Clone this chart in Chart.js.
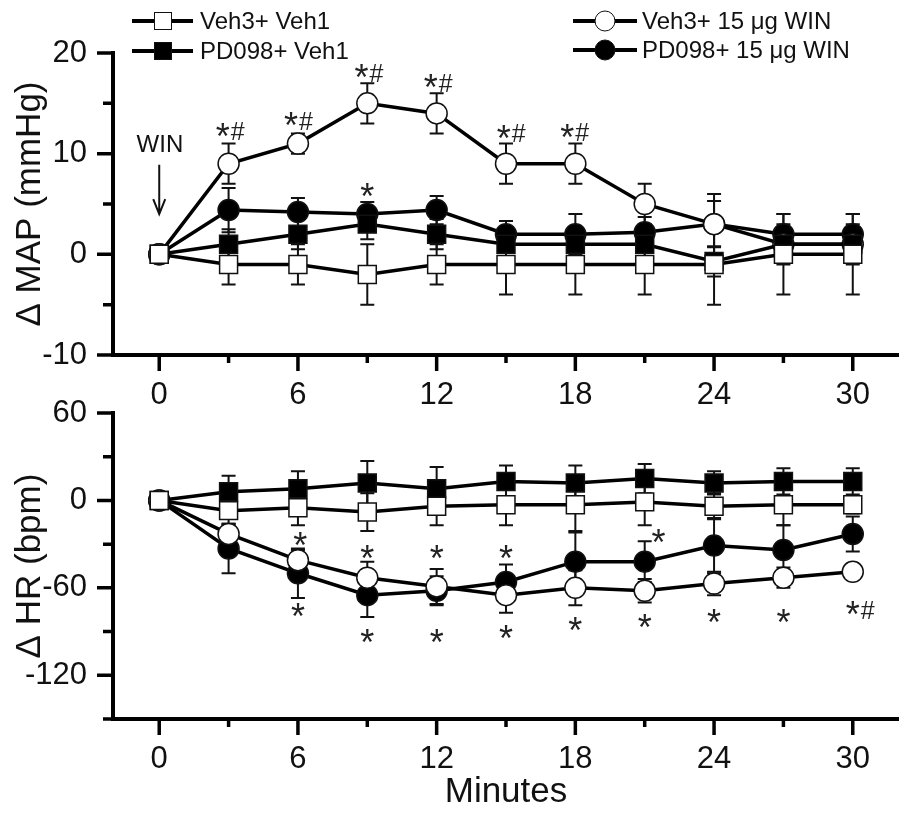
<!DOCTYPE html>
<html>
<head>
<meta charset="utf-8">
<title>MAP and HR after WIN</title>
<script src="https://cdn.jsdelivr.net/npm/chart.js@4.4.1/dist/chart.umd.min.js"></script>
<style>
  html, body { margin: 0; padding: 0; background: #fff; }
  #page { position: relative; width: 899px; height: 813px; overflow: hidden; font-family: "Liberation Sans", Arial, sans-serif; color: #111; }
  #page canvas { position: absolute; left: 0; }
  #map-chart { top: 0; }
  #hr-chart { top: 380px; }
  .lg-item { position: absolute; height: 30px; display: flex; align-items: center; font-size: 24px; white-space: nowrap; }
  .lg-key { position: relative; height: 30px; flex: none; }
  .lg-key::before { content: ""; position: absolute; left: 0; right: 0; top: 13px; height: 4px; background: #000; }
  .lg-mark { position: absolute; top: 50%; left: 50%; transform: translate(-50%, -50%); box-sizing: border-box; border: 1.5px solid #111; }
  .sq { width: 18px; height: 18px; }
  .ci { width: 21px; height: 21px; border-radius: 50%; }
  .open { background: #fff; }
  .filled { background: #000; }
</style>
</head>
<body>
<div id="page">
  <canvas id="map-chart" width="899" height="420"></canvas>
  <canvas id="hr-chart" width="899" height="433"></canvas>

  <div class="lg-item" style="left:132px; top:6px"><span class="lg-key" style="width:61px; margin-right:7px"><span class="lg-mark sq open"></span></span>Veh3+ Veh1</div>
  <div class="lg-item" style="left:132px; top:36px"><span class="lg-key" style="width:61px; margin-right:7px"><span class="lg-mark sq filled"></span></span>PD098+ Veh1</div>
  <div class="lg-item" style="left:573px; top:6px"><span class="lg-key" style="width:64px; margin-right:5px"><span class="lg-mark ci open"></span></span>Veh3+ 15 μg WIN</div>
  <div class="lg-item" style="left:573px; top:35px"><span class="lg-key" style="width:64px; margin-right:5px"><span class="lg-mark ci filled"></span></span>PD098+ 15 μg WIN</div>
</div>

<script>
const FONT = '"Liberation Sans", Arial, sans-serif';

// sampling times (min) and axis ticks
const MINUTES = [0, 3, 6, 9, 12, 15, 18, 21, 24, 27, 30];
const X_TICKS = [0, 3, 6, 9, 12, 15, 18, 21, 24, 27, 30];
const X_LABELS = [0, 6, 12, 18, 24, 30];
const MAP_TICKS = [-10, -5, 0, 5, 10, 15, 20];
const MAP_LABELS = [-10, 0, 10, 20];
const HR_TICKS = [-150, -120, -90, -60, -30, 0, 30, 60];
const HR_LABELS = [-120, -60, 0, 60];

// change in mean arterial pressure (mmHg), mean and SEM
const MAP_VEH_VEH = [0, -1, -1, -2, -1, -1, -1, -1, -1, 0, 0];
const MAP_VEH_VEH_SEM = [0, 2, 2, 3, 2, 3, 3, 3, 4, 4, 4];
const MAP_PD_VEH = [0, 1, 2, 3, 2, 1, 1, 1, -0.7, 1, 1];
const MAP_PD_VEH_SEM = [0, 1.5, 1.5, 1.5, 1.5, 1.5, 1.5, 1.5, 1.5, 1.5, 1.5];
const MAP_VEH_WIN = [0, 9, 11, 15, 14, 9, 9, 5, 3, 1, 1];
const MAP_VEH_WIN_SEM = [0, 2, 1, 2, 2, 2, 2, 2, 2.3, 2, 2];
const MAP_PD_WIN = [0, 4.4, 4.2, 4, 4.4, 2, 2, 2.2, 3, 2, 2];
const MAP_PD_WIN_SEM = [0, 2.2, 1.4, 1.2, 1.4, 1.3, 2, 1.5, 3, 2, 2];

// change in heart rate (bpm), mean and SEM
const HR_VEH_VEH = [0, -7, -5, -8, -4, -3, -3, -1, -4, -3, -3];
const HR_VEH_VEH_SEM = [0, 10, 12, 13, 13, 14, 18, 16, 9, 14, 6];
const HR_PD_VEH = [0, 6, 8, 12, 8, 13, 12, 15, 12, 13, 13];
const HR_PD_VEH_SEM = [0, 11, 12, 15, 15, 11, 12, 10, 8, 9, 9];
const HR_VEH_WIN = [0, -23, -41, -53, -59, -65, -60, -62, -57, -53, -49];
const HR_VEH_WIN_SEM = [0, 7, 7, 11, 12, 12, 12, 8, 8, 7, 5];
const HR_PD_WIN = [0, -33, -50, -65, -62, -56, -42, -42, -31, -34, -23];
const HR_PD_WIN_SEM = [0, 17, 17, 15, 10, 12, 20, 14, 19, 17, 12];

// significance marks: position in data units, "#" shown after the star when flagged
const MAP_STAR_X = [2.75, 5.7, 8.75, 11.75, 14.9, 17.65, 9];
const MAP_STAR_Y = [12.4, 13.4, 18.2, 17.2, 12.2, 12.3, 6.35];
const MAP_STAR_HASH = [true, true, true, true, true, true, false];
const HR_STAR_X = [6.1, 9, 12, 15, 21.6, 6, 9, 12, 15, 18, 21, 24, 27, 30];
const HR_STAR_Y = [-26.7, -35.6, -35.6, -35.6, -24.3, -75.4, -92.8, -92.8, -90.4, -85, -82.5, -79, -79, -74];
const HR_STAR_HASH = [false, false, false, false, false, false, false, false, false, false, false, false, false, true];

// WIN injection arrow (minute, label value, arrow start, arrow end)
const WIN_AT = 0, WIN_LABEL_Y = 11, WIN_ARROW = [8.9, 4.0];

function pts(vals) { return MINUTES.map((m, i) => ({ x: m, y: vals[i] })); }

function series(vals, sem, style, filled) {
  return {
    data: pts(vals), sem,
    borderColor: '#000', borderWidth: 3.5, tension: 0,
    pointStyle: style, pointRadius: style === 'rect' ? 12.7 : 10.5, pointHoverRadius: style === 'rect' ? 12.7 : 10.5,
    pointBorderColor: '#111', pointBorderWidth: 1.5,
    pointBackgroundColor: filled ? '#000' : '#fff'
  };
}

// error bars go under the markers so open symbols hide them
const errorBars = {
  id: 'errorBars',
  beforeDatasetsDraw(chart) {
    const { ctx } = chart, sx = chart.scales.x, sy = chart.scales.y;
    ctx.save();
    ctx.strokeStyle = '#111';
    ctx.lineWidth = 2;
    chart.data.datasets.forEach(ds => {
      ds.data.forEach((p, i) => {
        const e = ds.sem[i];
        if (!e) return;
        const x = sx.getPixelForValue(p.x);
        const y1 = sy.getPixelForValue(p.y + e), y2 = sy.getPixelForValue(p.y - e);
        ctx.beginPath();
        ctx.moveTo(x, y1); ctx.lineTo(x, y2);
        ctx.moveTo(x - 7, y1); ctx.lineTo(x + 7, y1);
        ctx.moveTo(x - 7, y2); ctx.lineTo(x + 7, y2);
        ctx.stroke();
      });
    });
    ctx.restore();
  }
};

// outward tick marks, long on labelled values and short in between
const tickMarks = {
  id: 'tickMarks',
  afterDraw(chart, args, opts) {
    const { ctx, chartArea } = chart, sx = chart.scales.x, sy = chart.scales.y;
    ctx.save();
    ctx.strokeStyle = '#000';
    ctx.lineWidth = 3.5;
    ctx.beginPath();
    X_TICKS.forEach(v => {
      const p = sx.getPixelForValue(v), len = X_LABELS.includes(v) ? 16 : 8;
      ctx.moveTo(p, chartArea.bottom); ctx.lineTo(p, chartArea.bottom + len);
    });
    opts.yTicks.forEach(v => {
      const p = sy.getPixelForValue(v), len = opts.yLabels.includes(v) ? 16 : 10;
      ctx.moveTo(chartArea.left - len, p); ctx.lineTo(chartArea.left, p);
    });
    ctx.stroke();
    ctx.restore();
  }
};

function inkText(ctx, text, font, cx, cy, align) {
  ctx.font = font;
  ctx.textAlign = 'left';
  ctx.textBaseline = 'alphabetic';
  const m = ctx.measureText(text);
  const w = m.actualBoundingBoxLeft + m.actualBoundingBoxRight;
  const left = align === 'left' ? cx : cx - w / 2;
  ctx.fillText(text, left + m.actualBoundingBoxLeft, cy + (m.actualBoundingBoxAscent - m.actualBoundingBoxDescent) / 2);
  return left + w;
}

const marks = {
  id: 'marks',
  afterDatasetsDraw(chart, args, opts) {
    const { ctx } = chart, sx = chart.scales.x, sy = chart.scales.y;
    ctx.save();
    ctx.fillStyle = '#222';
    opts.xs.forEach((t, i) => {
      const px = sx.getPixelForValue(t), py = sy.getPixelForValue(opts.ys[i]);
      const right = inkText(ctx, '*', '36px ' + FONT, px, py);
      if (opts.hash[i]) inkText(ctx, '#', '25px ' + FONT, right + 1, py + 1.5, 'left');
    });
    if (opts.win) {
      const px = sx.getPixelForValue(WIN_AT);
      ctx.fillStyle = '#111';
      inkText(ctx, 'WIN', '24px ' + FONT, px, sy.getPixelForValue(WIN_LABEL_Y));
      const a = sy.getPixelForValue(WIN_ARROW[0]), b = sy.getPixelForValue(WIN_ARROW[1]);
      ctx.strokeStyle = '#111';
      ctx.lineWidth = 2;
      ctx.beginPath();
      ctx.moveTo(px, a); ctx.lineTo(px, b);
      ctx.moveTo(px - 6, b - 15); ctx.lineTo(px, b); ctx.lineTo(px + 6, b - 15);
      ctx.stroke();
    }
    ctx.restore();
  }
};

function xScale(axisHeight, title) {
  return {
    type: 'linear', min: -2, max: 32,
    afterBuildTicks: s => { s.ticks = X_TICKS.map(v => ({ value: v })); },
    afterFit: s => { s.height = axisHeight; },
    grid: { display: true, drawOnChartArea: false, drawTicks: true, tickLength: 16, color: 'transparent', tickColor: 'transparent' },
    border: { display: true, color: '#000', width: 4 },
    ticks: { autoSkip: false, maxRotation: 0, padding: 6, color: '#111', font: { family: FONT, size: 31 },
             callback: v => X_LABELS.includes(v) ? String(v) : '' },
    title: { display: !!title, text: title || '', color: '#111', font: { family: FONT, size: 35 }, padding: { top: 0, bottom: 0 } }
  };
}

function yScale(min, max, tickVals, labelVals, title) {
  return {
    type: 'linear', min, max,
    afterBuildTicks: s => { s.ticks = tickVals.map(v => ({ value: v })); },
    afterFit: s => { s.width = 113; },
    grid: { display: true, drawOnChartArea: false, drawTicks: true, tickLength: 16, color: 'transparent', tickColor: 'transparent' },
    border: { display: true, color: '#000', width: 4 },
    ticks: { autoSkip: false, padding: 10, color: '#111', font: { family: FONT, size: 31 },
             callback: v => labelVals.includes(v) ? String(v) : '' },
    title: { display: true, text: title, color: '#111', font: { family: FONT, size: 35 }, padding: { top: 9, bottom: 0 } }
  };
}

function makeChart(id, sets, yOpts, xOpts, padTop, markOpts, tickOpts) {
  return new Chart(document.getElementById(id), {
    type: 'line',
    data: { datasets: sets },
    options: {
      responsive: false, animation: false, devicePixelRatio: 1,
      layout: { autoPadding: false, padding: { top: padTop, left: 0, right: 0, bottom: 0 } },
      plugins: { legend: { display: false }, tooltip: { enabled: false }, marks: markOpts, tickMarks: tickOpts },
      elements: { line: { fill: false } },
      scales: { x: xOpts, y: yOpts }
    },
    plugins: [errorBars, tickMarks, marks]
  });
}

makeChart('map-chart', [
  series(MAP_VEH_VEH, MAP_VEH_VEH_SEM, 'rect', false),
  series(MAP_PD_VEH, MAP_PD_VEH_SEM, 'rect', true),
  series(MAP_VEH_WIN, MAP_VEH_WIN_SEM, 'circle', false),
  series(MAP_PD_WIN, MAP_PD_WIN_SEM, 'circle', true)
], yScale(-10, 20, MAP_TICKS, MAP_LABELS, 'Δ MAP (mmHg)'), xScale(65, null), 53,
  { xs: MAP_STAR_X, ys: MAP_STAR_Y, hash: MAP_STAR_HASH, win: true },
  { yTicks: MAP_TICKS, yLabels: MAP_LABELS });

makeChart('hr-chart', [
  series(HR_VEH_VEH, HR_VEH_VEH_SEM, 'rect', false),
  series(HR_PD_VEH, HR_PD_VEH_SEM, 'rect', true),
  series(HR_VEH_WIN, HR_VEH_WIN_SEM, 'circle', false),
  series(HR_PD_WIN, HR_PD_WIN_SEM, 'circle', true)
], yScale(-150, 60, HR_TICKS, HR_LABELS, 'Δ HR (bpm)'), xScale(94, 'Minutes'), 33,
  { xs: HR_STAR_X, ys: HR_STAR_Y, hash: HR_STAR_HASH, win: false },
  { yTicks: HR_TICKS, yLabels: HR_LABELS });
</script>
</body>
</html>
